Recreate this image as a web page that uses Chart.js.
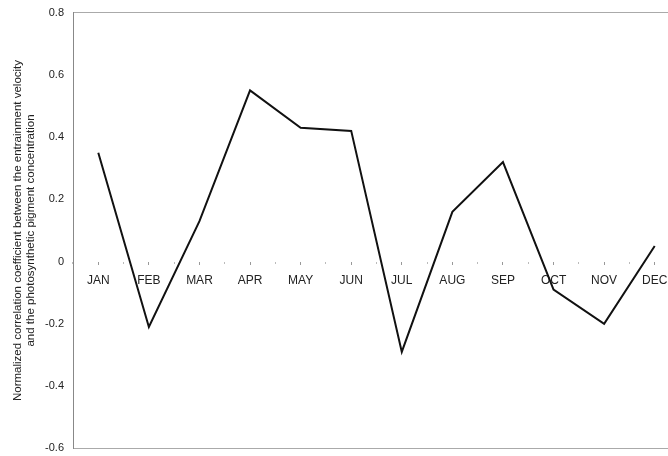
<!DOCTYPE html>
<html>
<head>
<meta charset="utf-8">
<script src="https://cdn.jsdelivr.net/npm/chart.js@4.4.0/dist/chart.umd.min.js"></script>
<style>
  html, body { margin: 0; padding: 0; background: #fff; overflow: hidden; }
  #wrap { width: 668px; height: 456px; overflow: hidden; }
  #wrap div { width: 680px; height: 467px; margin-top: -3px; }
</style>
</head>
<body>
<div id="wrap"><div><canvas id="corrChart" width="680" height="467"></canvas></div></div>
<script>
const months = ['JAN', 'FEB', 'MAR', 'APR', 'MAY', 'JUN', 'JUL', 'AUG', 'SEP', 'OCT', 'NOV', 'DEC'];
const correlation = [0.35, -0.21, 0.13, 0.55, 0.43, 0.42, -0.29, 0.16, 0.32, -0.09, -0.20, 0.05];
const yTitle = ['Normalized correlation coefficient between the entrainment velocity',
                'and the photosynthetic pigment concentration'];

const ctx = document.getElementById('corrChart').getContext('2d');

new Chart(ctx, {
    type: 'line',
    data: {
        labels: months,
        datasets: [{
            data: correlation,
            borderColor: '#111',
            borderWidth: 2,
            pointRadius: 0,
            tension: 0,
            fill: false
        }]
    },
    options: {
        responsive: false,
        animation: false,
        layout: {
            padding: { top: 9, bottom: 0, right: 0, left: 0 }
        },
        plugins: {
            legend: { display: false },
            tooltip: { enabled: false }
        },
        scales: {
            x: {
                type: 'category',
                offset: true,
                position: { y: 0 },
                border: { display: false },
                grid: {
                    drawOnChartArea: false,
                    offset: false,
                    tickLength: 3,
                    tickColor: '#999'
                },
                ticks: {
                    color: '#222',
                    padding: 9,
                    maxRotation: 0,
                    font: { family: 'Liberation Sans, Arial', size: 12 }
                }
            },
            // boundary ticks between months, on the zero line
            x2: {
                type: 'category',
                labels: months,
                offset: true,
                position: { y: 0 },
                border: { display: false },
                grid: {
                    drawOnChartArea: false,
                    offset: true,
                    tickLength: 2,
                    tickColor: '#bbb'
                },
                ticks: { display: false }
            },
            y: {
                min: -0.6,
                max: 0.8,
                afterFit: (scale) => { scale.width = 73; },
                border: { display: true, color: '#888', width: 1 },
                grid: {
                    drawTicks: false,
                    color: (c) => (c.tick && (c.tick.value === 0.8 || c.tick.value === -0.6)) ? '#aaa' : 'transparent',
                    lineWidth: 1,
                    borderDash: [3, 1]
                },
                ticks: {
                    stepSize: 0.2,
                    color: '#222',
                    padding: 9,
                    font: { family: 'Liberation Sans, Arial', size: 11 },
                    callback: (v) => {
                        const r = Math.round(v * 10) / 10;
                        return r === 0 ? '0' : r.toString();
                    }
                },
                title: {
                    display: true,
                    text: yTitle,
                    color: '#222',
                    padding: { top: 11, bottom: 4 },
                    font: { family: 'Liberation Sans, Arial', size: 11.5, lineHeight: 1.15 }
                }
            }
        }
    }
});
</script>
</body>
</html>
